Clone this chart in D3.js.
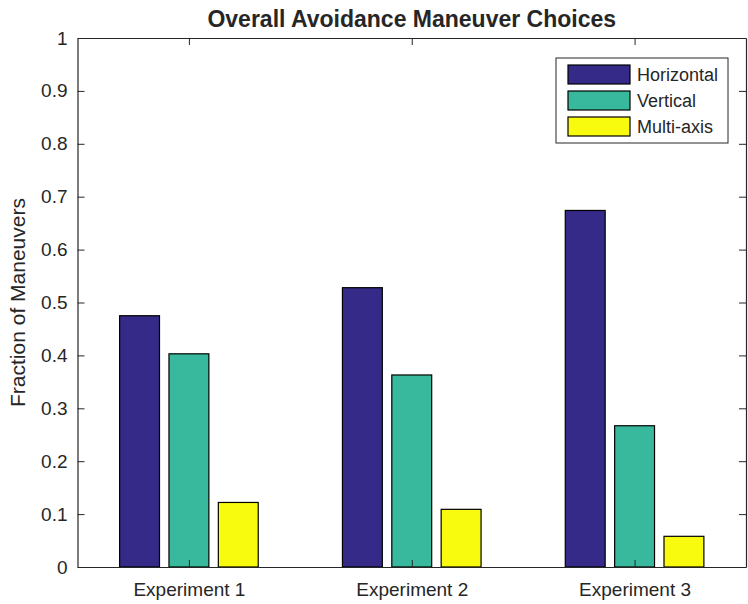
<!DOCTYPE html>
<html>
<head>
<meta charset="utf-8">
<script src="https://cdn.jsdelivr.net/npm/d3@7"></script>
<style>
  body { margin: 0; background: #fff; }
  text { font-family: "Liberation Sans", Arial, sans-serif; fill: #262626; }
</style>
</head>
<body>
<div id="graphique"></div>
<script>
// data
const experiments = ['Experiment 1', 'Experiment 2', 'Experiment 3']
const series = ['Horizontal', 'Vertical', 'Multi-axis']
const horizontal = [0.475, 0.528, 0.674]
const vertical = [0.403, 0.363, 0.267]
const multiAxis = [0.122, 0.109, 0.058]
const yTicks = [0, 0.1, 0.2, 0.3, 0.4, 0.5, 0.6, 0.7, 0.8, 0.9, 1]
const colors = ['#352a87', '#38b99e', '#f9fb0e']

const values = [horizontal, vertical, multiAxis]

let margin = { top: 38, right: 2, bottom: 37, left: 77.5 },
    width = 748 - margin.left - margin.right,
    height = 604 - margin.top - margin.bottom

// matlab-like scales: groups at 1,2,3 with limits 0.5..3.5
let x = d3.scaleLinear().domain([0.5, 3.5]).range([0, width])
let y = d3.scaleLinear().domain([0, 1]).range([height, 0])

let svg = d3.select('#graphique').append('svg')
    .attr('width', 748)
    .attr('height', 604)

let g = svg.append('g')
    .attr('transform', 'translate(' + margin.left + ',' + margin.top + ')')

// bars
let offset = 0.2215, barW = 0.179
series.forEach((s, si) => {
    g.selectAll('.bar' + si)
        .data(values[si])
        .enter().append('rect')
        .attr('x', (d, i) => x(i + 1 + (si - 1) * offset - barW / 2))
        .attr('width', x(barW) - x(0))
        .attr('y', d => y(d))
        .attr('height', d => height - y(d))
        .attr('fill', colors[si])
        .attr('stroke', '#000')
        .attr('stroke-width', 1.2)
})

// axes
let xt = [1, 2, 3]
let axisBottom = d3.axisBottom(x).tickValues(xt).tickFormat((d, i) => experiments[i])
    .tickSizeInner(-7).tickSizeOuter(0).tickPadding(16)
let axisTop = d3.axisTop(x).tickValues(xt).tickFormat('').tickSizeInner(-7).tickSizeOuter(0)
let axisLeft = d3.axisLeft(y).tickValues(yTicks).tickFormat(d3.format('')).tickSizeInner(-7).tickSizeOuter(0).tickPadding(10)
let axisRight = d3.axisRight(y).tickValues(yTicks).tickFormat('').tickSizeInner(-7).tickSizeOuter(0)

g.append('g').attr('transform', 'translate(0,' + height + ')').call(axisBottom)
g.append('g').call(axisTop)
g.append('g').call(axisLeft)
g.append('g').attr('transform', 'translate(' + width + ',0)').call(axisRight)

g.selectAll('.domain').attr('stroke', '#262626').attr('stroke-width', 1.2)
g.selectAll('.tick line').attr('stroke', '#262626')
g.selectAll('.tick text').attr('font-size', 19).attr('fill', '#262626')
    .style('font-family', '"Liberation Sans", Arial, sans-serif')

// title
svg.append('text')
    .attr('x', margin.left + width / 2)
    .attr('y', 27)
    .attr('text-anchor', 'middle')
    .attr('font-weight', 'bold')
    .attr('font-size', 23)
    .text('Overall Avoidance Maneuver Choices')

// y label
svg.append('text')
    .attr('transform', 'translate(25,' + (margin.top + height / 2) + ') rotate(-90)')
    .attr('text-anchor', 'middle')
    .attr('font-size', 21)
    .text('Fraction of Maneuvers')

// legend
let legend = svg.append('g').attr('transform', 'translate(556,58)')
legend.append('rect')
    .attr('width', 172).attr('height', 85)
    .attr('fill', '#fff').attr('stroke', '#262626').attr('stroke-width', 1)
series.forEach((s, i) => {
    legend.append('rect')
        .attr('x', 12).attr('y', 7 + i * 26)
        .attr('width', 62).attr('height', 19)
        .attr('fill', colors[i]).attr('stroke', '#000').attr('stroke-width', 1.2)
    legend.append('text')
        .attr('x', 81).attr('y', 16.5 + i * 26)
        .attr('dy', '0.35em')
        .attr('font-size', 18)
        .text(s)
})
</script>
</body>
</html>
